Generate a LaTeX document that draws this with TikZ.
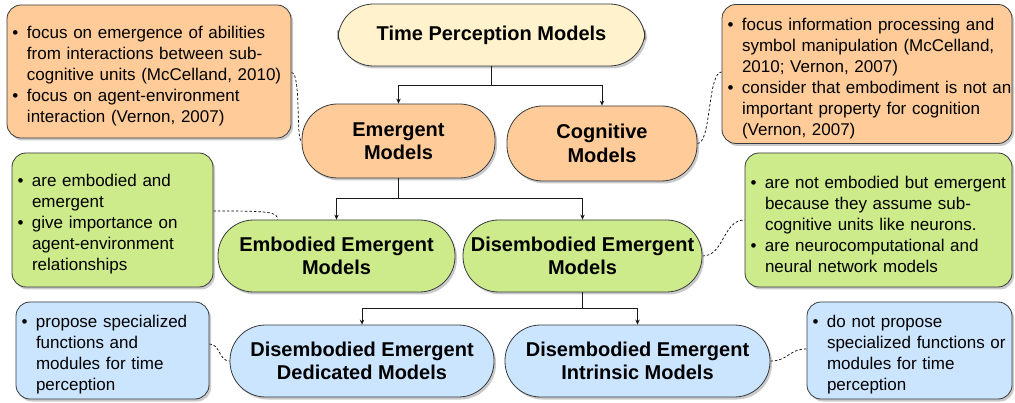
\documentclass[tikz,border=0pt]{standalone}
\usepackage{fontspec}
\setmainfont{Liberation Sans}
\usetikzlibrary{shadows,arrows.meta,backgrounds}

\definecolor{yellowfill}{HTML}{FFF2CC}
\definecolor{orangefill}{HTML}{FFCC99}
\definecolor{greenfill}{HTML}{CDEB8B}
\definecolor{bluefill}{HTML}{CCE5FF}
\definecolor{edge}{HTML}{36393D}

% one bullet item with a hanging indent; the item closes its own paragraph
\newcommand{\bitem}[1]{\par\hangindent=30pt\hangafter=1\noindent\makebox[30pt][l]{\hspace{15.5pt}\textbullet}#1\par}

\tikzset{
  shade/.style={drop shadow={shadow xshift=2pt,shadow yshift=-2.5pt,opacity=0.35,fill=black!60}},
  pill/.style={draw=edge,line width=0.8pt,rounded corners=35.5pt,shade,
    font=\fontsize{20}{23.5}\selectfont\bfseries,align=center,inner sep=0pt},
  % text area reaches 10pt past each border so the given line breaks always fit
  note/.style={draw=edge,line width=0.8pt,rounded corners=14pt,shade,
    font=\fontsize{17}{21}\selectfont,align=left,inner xsep=-10pt,inner ysep=0pt},
  conn/.style={draw=black!90,line width=0.8pt,-{Stealth[length=5pt,width=4.5pt]}},
  link/.style={draw=black,line width=0.7pt,dash pattern=on 2.5pt off 2pt},
}

\begin{document}
\begin{tikzpicture}[x=1pt,y=-1pt]
\useasboundingbox (0,0) rectangle (1015,403);

% model hierarchy
\node[pill,fill=yellowfill,minimum width=307pt,minimum height=62pt] (tpm) at (491.5,35) {Time Perception Models};
\node[pill,fill=orangefill,minimum width=193pt,minimum height=74pt] (em) at (398.5,141) {Emergent\\Models};
\node[pill,fill=orangefill,minimum width=190pt,minimum height=75pt] (cog) at (602,143.5) {Cognitive\\Models};
\node[pill,fill=greenfill,minimum width=237pt,minimum height=72pt] (emb) at (336.5,256) {Embodied Emergent\\Models};
\node[pill,fill=greenfill,minimum width=239pt,minimum height=72pt] (dis) at (582.5,256) {Disembodied Emergent\\Models};
\node[pill,fill=bluefill,minimum width=264pt,minimum height=72pt] (ded) at (362,361) {Disembodied Emergent\\Dedicated Models};
\node[pill,fill=bluefill,minimum width=265pt,minimum height=72pt] (intr) at (637.5,361) {Disembodied Emergent\\Intrinsic Models};

% annotation boxes (text width = box width + 20pt)
\node[note,fill=orangefill,text width=304pt,minimum height=133pt] (on1) at (149,71.5) {%
  \bitem{focus on emergence of abilities\newline from interactions between sub-\newline cognitive units (McCelland, 2010)}%
  \bitem{focus on agent-environment\newline interaction (Vernon, 2007)}};
\node[note,fill=orangefill,text width=310pt,minimum height=139pt] (on2) at (867,74) {%
  \bitem{focus information processing and\newline symbol manipulation (McCelland,\newline 2010; Vernon, 2007)}%
  \bitem{consider that embodiment is not an\newline important property for cognition\newline (Vernon, 2007)}};
\node[note,fill=greenfill,text width=221pt,minimum height=134pt] (gn1) at (112.5,220) {%
  \bitem{are embodied and\newline emergent}%
  \bitem{give importance on\newline agent-environment\newline relationships}};
\node[note,fill=greenfill,text width=287pt,minimum height=134pt] (gn2) at (878.5,220) {%
  \bitem{are not embodied but emergent\newline because they assume sub-\newline cognitive units like neurons.}%
  \bitem{are neurocomputational and\newline neural network models}};
\node[note,fill=bluefill,text width=213pt,minimum height=97pt] (bn1) at (112.5,350.5) {%
  \bitem{propose specialized\newline functions and\newline modules for time\newline perception}};
\node[note,fill=bluefill,text width=225pt,minimum height=97pt] (bn2) at (909.5,350.5) {%
  \bitem{do not propose\newline specialized functions or\newline modules for time\newline perception}};

% tree connectors
\draw[conn] (tpm.south) -- ++(0,19) -| (em.north);
\draw[conn] (tpm.south) -- ++(0,19) -| (cog.north);
\draw[conn] (em.south) -- ++(0,20) -| (emb.north);
\draw[conn] (em.south) -- ++(0,20) -| (dis.north);
\draw[conn] (dis.south) -- ++(0,16) -| (ded.north);
\draw[conn] (dis.south) -- ++(0,16) -| (intr.north);

% dashed links to the annotations
\begin{scope}[on background layer]
\draw[link] ([yshift=-1pt]on1.east) .. controls +(10,0) and +(-6,0) .. (em.west);
\draw[link] (cog.east) .. controls +(14,0) and +(-14,0) .. ([yshift=2pt]on2.west);
\draw[link] ([yshift=9pt]gn1.east) .. controls +(55,0) and +(0,-8) .. ([xshift=60pt]emb.north west);
\draw[link] (dis.east) .. controls +(22,0) and +(-22,0) .. (gn2.west);
\draw[link] ([yshift=6.5pt]bn1.east) .. controls +(11,0) and +(-11,0) .. (ded.west);
\draw[link] (intr.east) .. controls +(18,0) and +(-18,0) .. ([yshift=1.5pt]bn2.west);
\end{scope}
\end{tikzpicture}
\end{document}
